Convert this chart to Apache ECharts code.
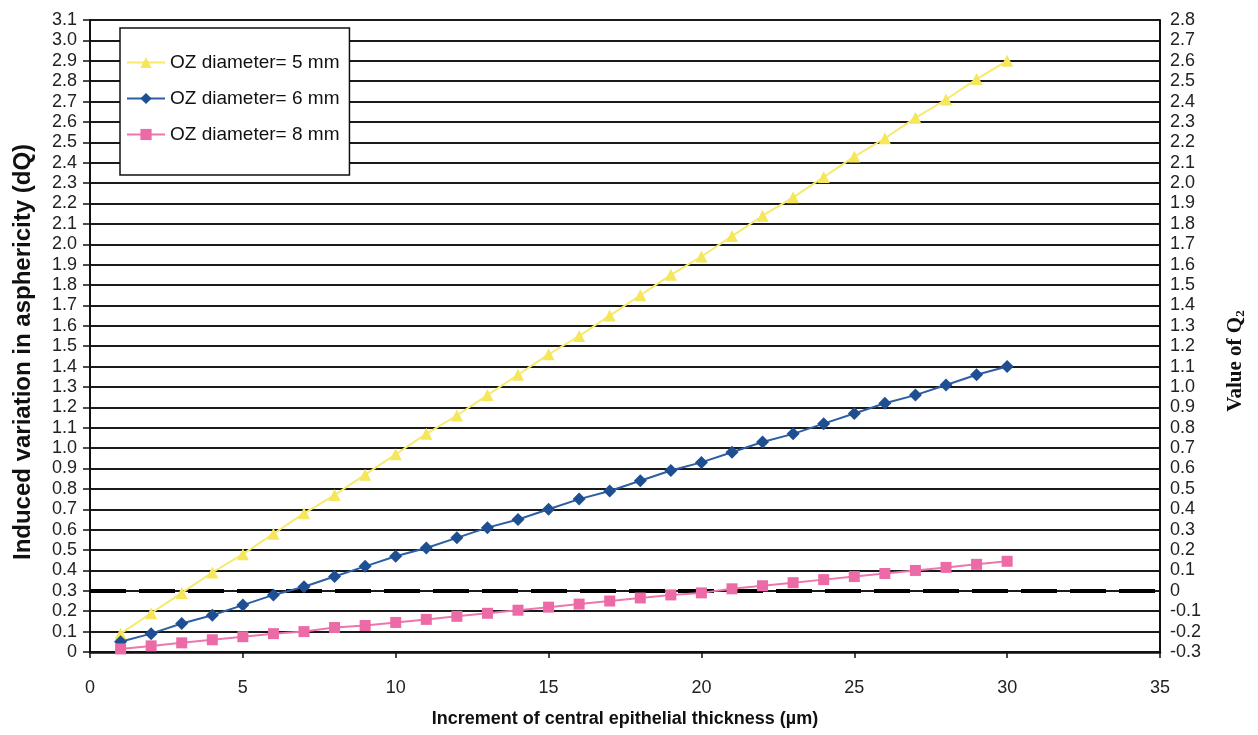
<!DOCTYPE html>
<html>
<head>
<meta charset="utf-8">
<script src="https://cdn.jsdelivr.net/npm/echarts@6/dist/echarts.min.js"></script>
<style>
  html, body { margin: 0; padding: 0; background: #fff; }
  #chart { width: 1258px; height: 735px; }
</style>
</head>
<body>
<div id="chart"></div>
<script>
// Increment of central epithelial thickness (µm)
const thickness = [1, 2, 3, 4, 5, 6, 7, 8, 9, 10, 11, 12, 13, 14, 15,
                   16, 17, 18, 19, 20, 21, 22, 23, 24, 25, 26, 27, 28, 29, 30];

// Induced variation in asphericity (dQ) per optical-zone diameter
const oz5mm = [0.09, 0.19, 0.29, 0.39, 0.48, 0.58, 0.68, 0.77, 0.87, 0.97,
               1.07, 1.16, 1.26, 1.36, 1.46, 1.55, 1.65, 1.75, 1.85, 1.94,
               2.04, 2.14, 2.23, 2.33, 2.43, 2.52, 2.62, 2.71, 2.81, 2.90];
const oz6mm = [0.05, 0.09, 0.14, 0.18, 0.23, 0.28, 0.32, 0.37, 0.42, 0.47,
               0.51, 0.56, 0.61, 0.65, 0.70, 0.75, 0.79, 0.84, 0.89, 0.93,
               0.98, 1.03, 1.07, 1.12, 1.17, 1.22, 1.26, 1.31, 1.36, 1.40];
const oz8mm = [0.015, 0.03, 0.045, 0.06, 0.075, 0.09, 0.10, 0.12, 0.13, 0.145,
               0.16, 0.175, 0.19, 0.205, 0.22, 0.235, 0.25, 0.265, 0.28, 0.29,
               0.31, 0.325, 0.34, 0.355, 0.37, 0.385, 0.40, 0.415, 0.43, 0.445];

const seriesNames = ['OZ diameter= 5 mm', 'OZ diameter= 6 mm', 'OZ diameter= 8 mm'];

// Q2 = dQ - 0.3, so the right-hand scale is the left one shifted down by 0.3
const q2Offset = 0.3;
// Reference level Q2 = 0 (dQ = 0.3)
const zeroQ2Level = 0.3;

const xTicks = { min: 0, max: 35, interval: 5 };
const yTicks = { min: 0, max: 3.1, interval: 0.1 };

function pairs(values) {
  return thickness.map((t, i) => [t, values[i]]);
}
function fmt(v) {
  const r = Math.round(v * 10) / 10;
  return Math.abs(r) < 1e-9 ? '0' : r.toFixed(1);
}

const sansFont = '"Liberation Sans", Arial, sans-serif';
const serifFont = '"Liberation Serif", "Times New Roman", serif';

const chart = echarts.init(document.getElementById('chart'), null, { renderer: 'canvas' });

chart.setOption({
  backgroundColor: '#ffffff',
  animation: false,
  grid: { left: 90, right: 98, top: 20, bottom: 83, show: false },
  legend: {
    orient: 'vertical',
    left: 120,
    top: 28,
    padding: [25, 10, 31, 6],
    itemGap: 17,
    itemWidth: 38,
    itemHeight: 14,
    backgroundColor: '#ffffff',
    borderColor: '#111',
    borderWidth: 1.5,
    borderRadius: 0,
    textStyle: { fontFamily: sansFont, fontSize: 19, color: '#111' },
    data: seriesNames
  },
  xAxis: {
    type: 'value',
    min: xTicks.min,
    max: xTicks.max,
    interval: xTicks.interval,
    name: 'Increment of central epithelial thickness (µm)',
    nameLocation: 'middle',
    nameGap: 58,
    nameTextStyle: { fontFamily: sansFont, fontSize: 18, fontWeight: 'bold', color: '#111' },
    axisLine: { show: true, onZero: false, lineStyle: { color: '#111', width: 2.5 } },
    axisTick: { show: true, inside: false, length: 6, lineStyle: { color: '#111', width: 1.5 } },
    axisLabel: { margin: 27, fontFamily: sansFont, fontSize: 18, color: '#222' },
    splitLine: { show: false }
  },
  yAxis: [
    {
      type: 'value',
      position: 'left',
      min: yTicks.min,
      max: yTicks.max,
      interval: yTicks.interval,
      name: 'Induced variation in asphericity (dQ)',
      nameLocation: 'middle',
      nameGap: 55,
      nameTextStyle: {
        fontFamily: sansFont, fontSize: 24, fontWeight: 'bold', color: '#111',
        padding: [0, 32, 0, 0]
      },
      axisLine: { show: true, lineStyle: { color: '#111', width: 2 } },
      axisTick: { show: true, inside: false, length: 7, lineStyle: { color: '#111', width: 1.5 } },
      axisLabel: { margin: 13, fontFamily: sansFont, fontSize: 18, color: '#222', formatter: fmt },
      splitLine: { show: true, lineStyle: { color: '#1a1a1a', width: 1.8 } }
    },
    {
      type: 'value',
      position: 'right',
      min: yTicks.min,
      max: yTicks.max,
      interval: yTicks.interval,
      name: 'Value of Q{sub|2}',
      nameLocation: 'middle',
      nameRotate: 90,
      nameGap: 64,
      nameTextStyle: {
        fontFamily: serifFont,
        fontSize: 21,
        fontWeight: 'bold',
        color: '#111',
        padding: [0, 50, 0, 0],
        rich: {
          sub: {
            fontFamily: serifFont,
            fontSize: 13,
            fontWeight: 'bold',
            color: '#111',
            verticalAlign: 'bottom',
            padding: [10, 0, 0, 0]
          }
        }
      },
      axisLine: { show: true, lineStyle: { color: '#111', width: 2 } },
      axisTick: { show: false },
      axisLabel: {
        margin: 10,
        fontFamily: sansFont,
        fontSize: 18,
        color: '#222',
        formatter: v => fmt(v - q2Offset)
      },
      splitLine: { show: false }
    }
  ],
  series: [
    {
      name: seriesNames[0],
      type: 'line',
      data: pairs(oz5mm),
      symbol: 'triangle',
      symbolSize: 12,
      color: '#f7ea6a',
      lineStyle: { color: '#f7ea6a', width: 2 },
      itemStyle: { color: '#f5e65a' },
      z: 4,
      markLine: {
        silent: true,
        symbol: 'none',
        label: { show: false },
        lineStyle: { color: '#000', width: 4, type: [36, 13] },
        data: [{ yAxis: zeroQ2Level }],
        z: 3
      }
    },
    {
      name: seriesNames[1],
      type: 'line',
      data: pairs(oz6mm),
      symbol: 'diamond',
      symbolSize: 13,
      color: '#25579b',
      lineStyle: { color: '#2c5ea3', width: 2 },
      itemStyle: { color: '#1f4f93' },
      z: 5
    },
    {
      name: seriesNames[2],
      type: 'line',
      data: pairs(oz8mm),
      symbol: 'rect',
      symbolSize: 11,
      color: '#ee6fab',
      lineStyle: { color: '#ee76ae', width: 2 },
      itemStyle: { color: '#ec6aa6' },
      z: 5
    }
  ]
});
</script>
</body>
</html>
